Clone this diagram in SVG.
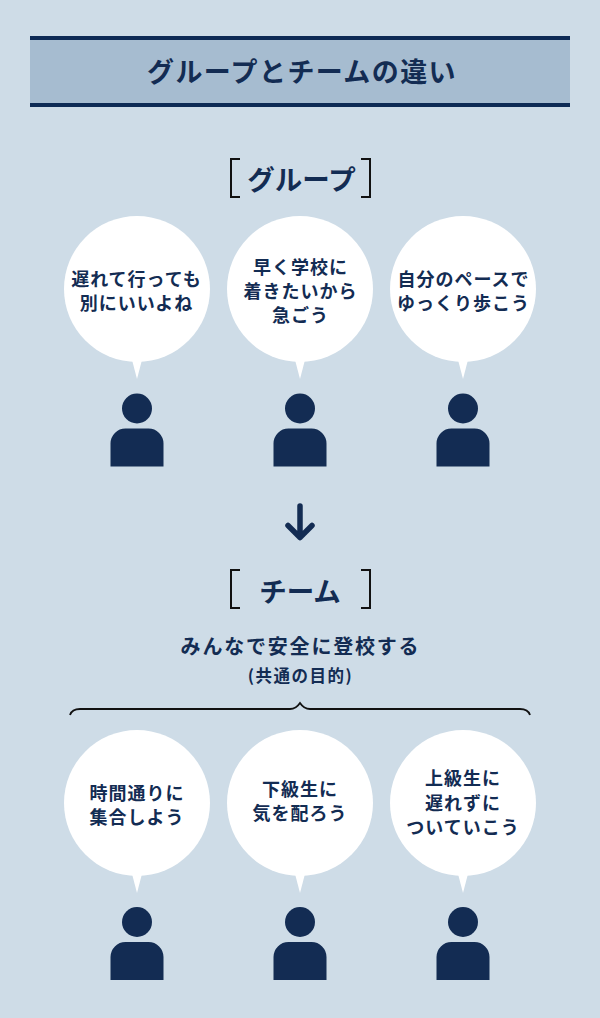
<svg xmlns="http://www.w3.org/2000/svg" width="600" height="1018" viewBox="0 0 600 1018">
<style>
text{font-family:"Noto Sans CJK JP",sans-serif;font-weight:700;fill:#132c53;text-anchor:middle}
.b{font-size:18px;letter-spacing:1px}
.bk{fill:none;stroke:#111;stroke-width:2}
.c{fill:#fff}
.p{fill:#132c53}
</style>
<defs>
<g id="bubble"><circle cx="0" cy="73" r="73" class="c"/><path d="M-6 140L0 163L6 140Z" class="c"/></g>
<g id="person"><circle cx="0" cy="15" r="15" class="p"/><path d="M-26.500 73V50A15 15 0 0 1-11.500 35H11.500A15 15 0 0 1 26.500 50V73Z" class="p"/></g>
</defs>
<rect width="600" height="1018" fill="#cedce7"/>
<g id="title">
<rect x="30" y="36" width="540" height="71" fill="#a6bcd0"/>
<rect x="30" y="36" width="540" height="4" fill="#0d2a55"/>
<rect x="30" y="103" width="540" height="4" fill="#0d2a55"/>
<text x="302" y="82" font-size="27" letter-spacing="1.400">グループとチームの違い</text>
</g>
<g id="heading-group">
<path class="bk" d="M240 159H231V197H240M361 159H370V197H361"/>
<text x="301.500" y="190" font-size="27.500">グループ</text>
</g>
<g id="n1"><use href="#bubble" x="137" y="216"/><text class="b" x="136.500" y="286">遅れて行っても</text><text class="b" x="136.500" y="310">別にいいよね</text></g>
<g id="n2"><use href="#bubble" x="300" y="216"/><text class="b" x="300.500" y="274">早く学校に</text><text class="b" x="300.500" y="298">着きたいから</text><text class="b" x="300.500" y="322">急ごう</text></g>
<g id="n3"><use href="#bubble" x="463" y="216"/><text class="b" x="463.500" y="286">自分のペースで</text><text class="b" x="463.500" y="310">ゆっくり歩こう</text></g>
<g id="p1"><use href="#person" x="137" y="393.500"/></g>
<g id="p2"><use href="#person" x="300" y="393.500"/></g>
<g id="p3"><use href="#person" x="463" y="393.500"/></g>
<g id="connectors">
<path d="M300 506V537.500M288 525.500L300 537.500L312 525.500" fill="none" stroke="#132c53" stroke-width="5.500" stroke-linecap="round" stroke-linejoin="round"/>
<path d="M70 715Q72 709 80 709H290Q296 709 300 703Q304 709 310 709H520Q528 709 530 715" fill="none" stroke="#111" stroke-width="1.800"/>
</g>
<g id="heading-team">
<path class="bk" d="M240 570H231V608H240M361 570H370V608H361"/>
<text x="300" y="602" font-size="27.500">チーム</text>
</g>
<g id="goal">
<text x="300.500" y="654" font-size="20" letter-spacing="1.800">みんなで安全に登校する</text>
<text x="300.500" y="682" font-size="16.500" letter-spacing="1.500">(共通の目的)</text>
</g>
<g id="n4"><use href="#bubble" x="137" y="730"/><text class="b" x="137" y="800">時間通りに</text><text class="b" x="137" y="824">集合しよう</text></g>
<g id="n5"><use href="#bubble" x="300" y="730"/><text class="b" x="300" y="796">下級生に</text><text class="b" x="300" y="820">気を配ろう</text></g>
<g id="n6"><use href="#bubble" x="463" y="730"/><text class="b" x="463" y="785">上級生に</text><text class="b" x="463" y="810">遅れずに</text><text class="b" x="463" y="834">ついていこう</text></g>
<g id="p4"><use href="#person" x="137" y="907"/></g>
<g id="p5"><use href="#person" x="300" y="907"/></g>
<g id="p6"><use href="#person" x="463" y="907"/></g>
</svg>
